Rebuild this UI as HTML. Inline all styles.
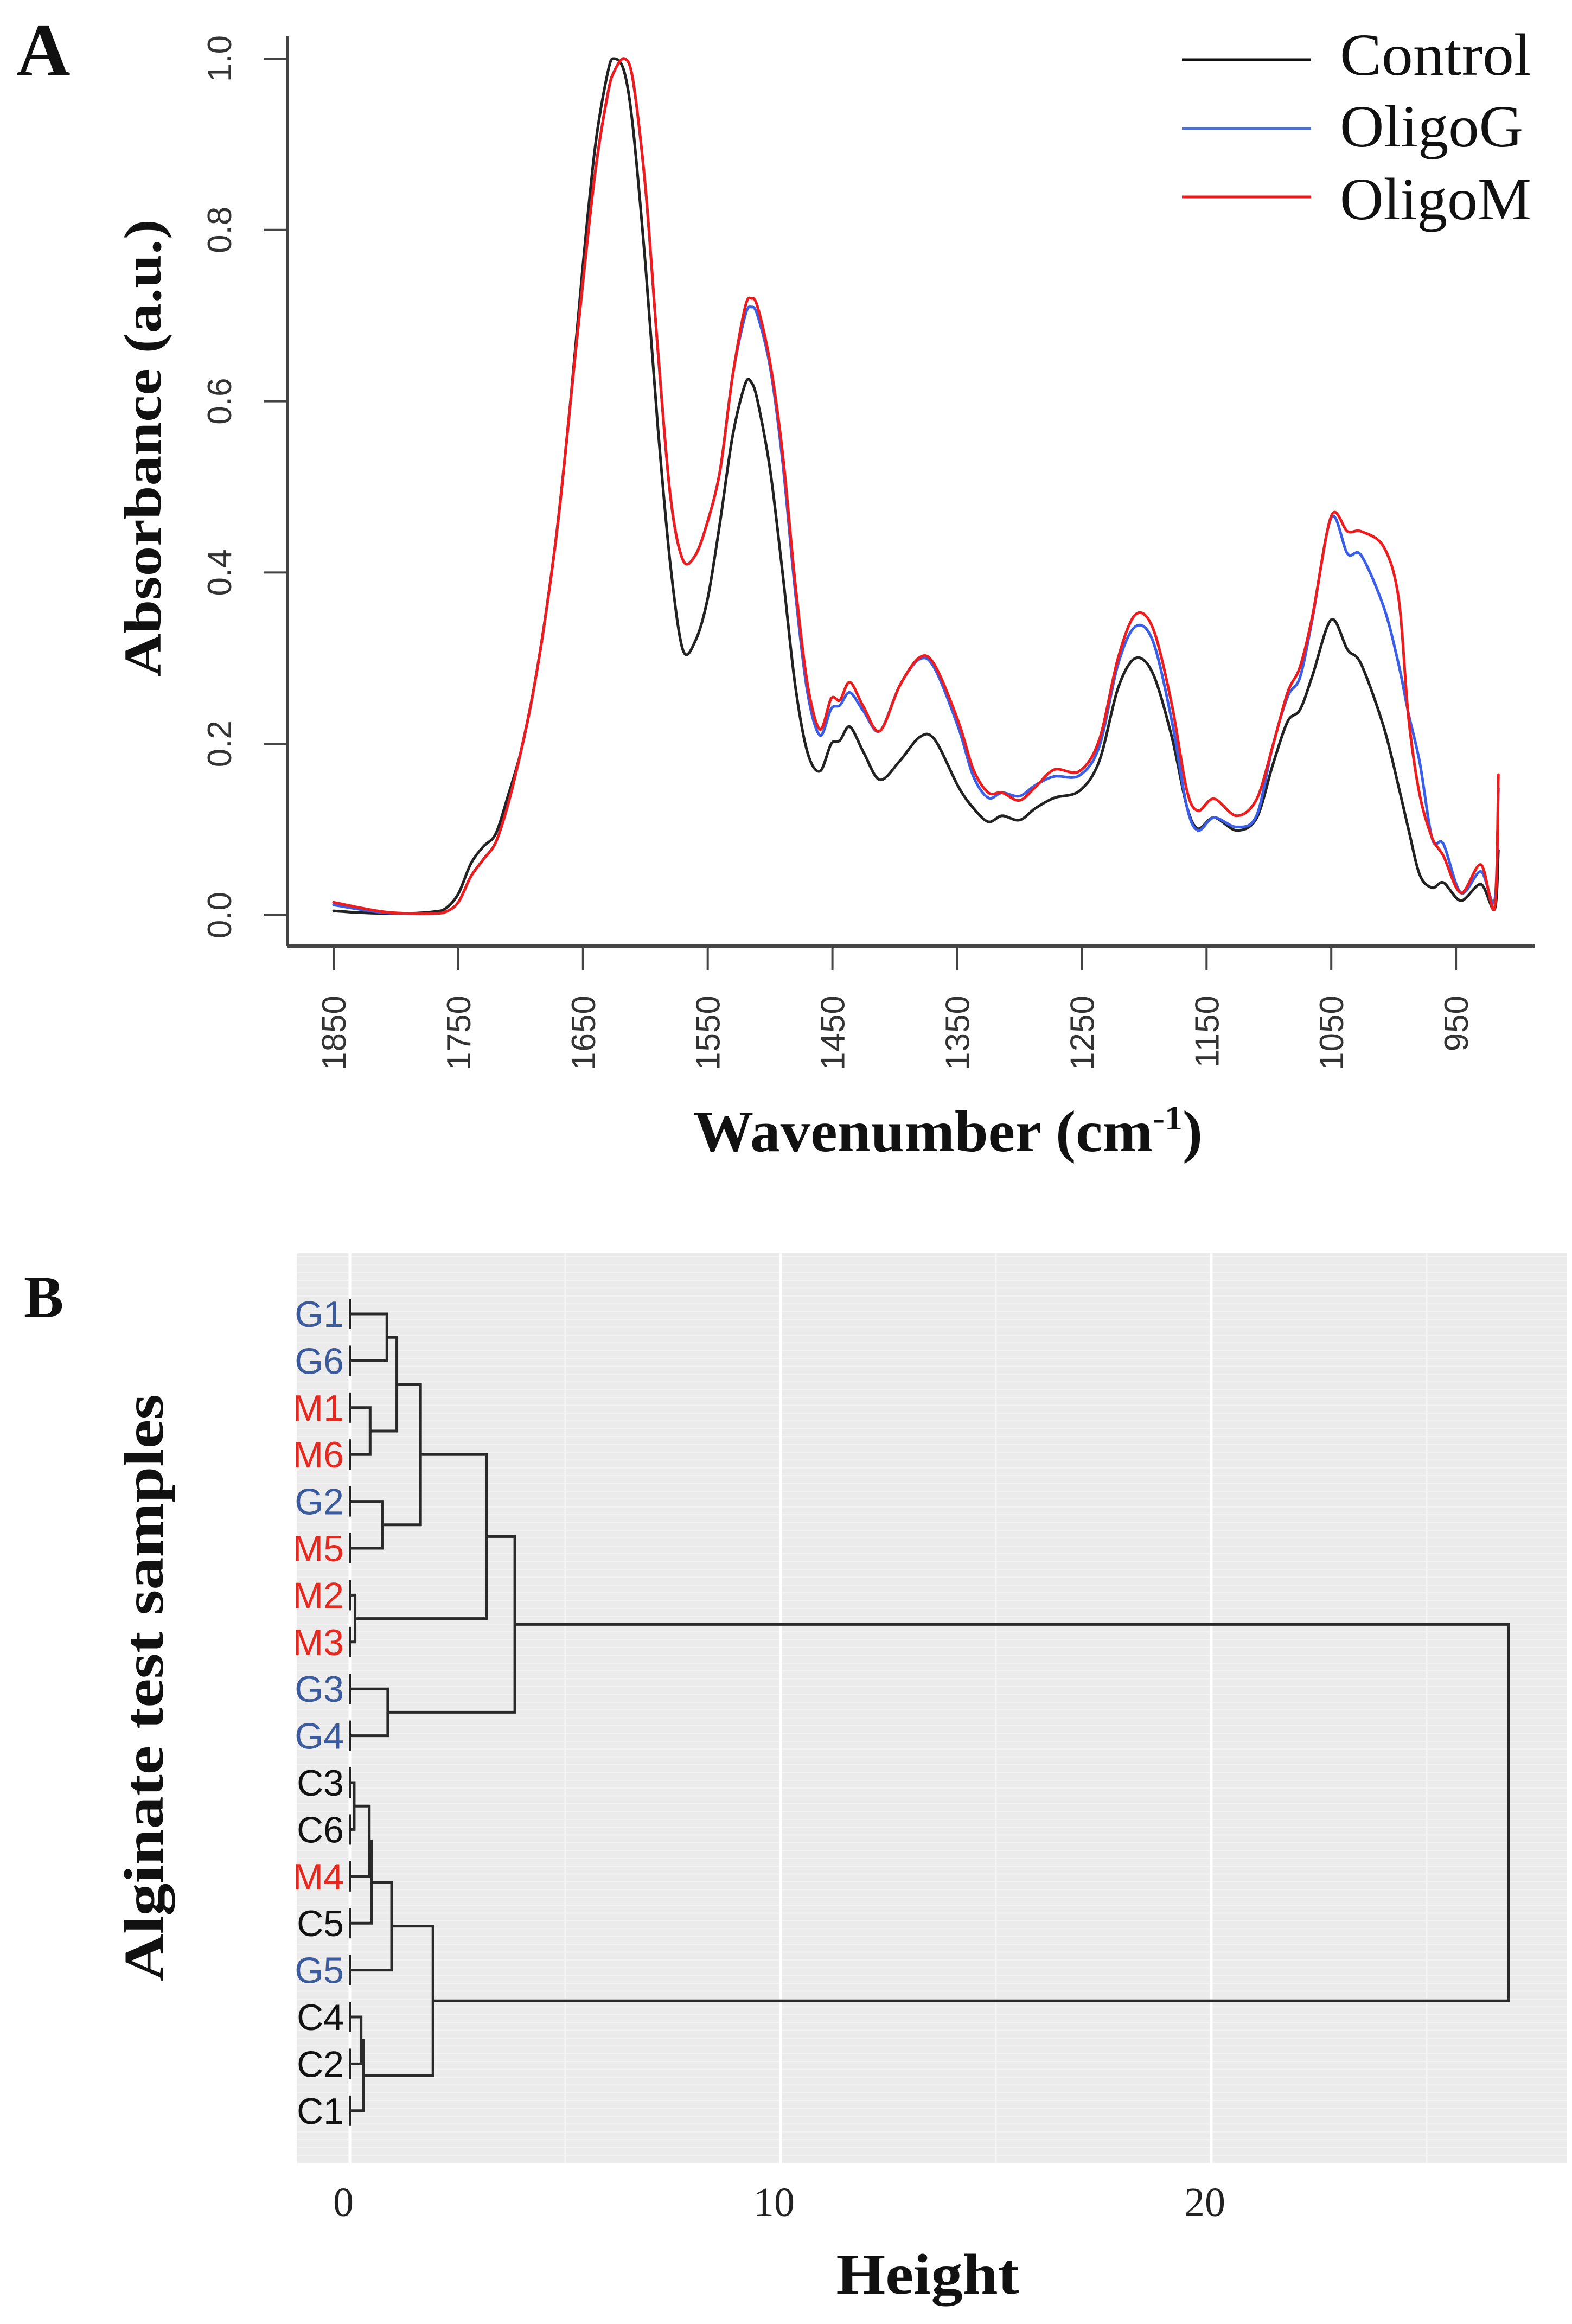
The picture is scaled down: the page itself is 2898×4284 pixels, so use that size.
<!DOCTYPE html>
<html><head><meta charset="utf-8"><style>
html,body{margin:0;padding:0;background:#fff}
svg{display:block}
</style></head><body>
<svg id="fig" xmlns="http://www.w3.org/2000/svg" width="2898" height="4284" viewBox="0 0 2898 4284">
<rect x="0" y="0" width="2898" height="4284" fill="#fff"/>
<!-- Panel A -->
<g id="panelA">
<text x="30" y="139" font-family="Liberation Serif, serif" font-weight="bold" font-size="138" fill="#111">A</text>
<line x1="530" y1="67" x2="530" y2="1744" stroke="#444" stroke-width="5"/>
<line x1="530" y1="1744" x2="2829" y2="1744" stroke="#444" stroke-width="6"/>
<g id="aYTicks"></g>
<g id="aXTicks"></g>
<g id="aLines"></g>
<text transform="translate(296,826) rotate(-90)" text-anchor="middle" font-family="Liberation Serif, serif" font-weight="bold" font-size="98" textLength="844" lengthAdjust="spacingAndGlyphs" fill="#111">Absorbance (a.u.)</text>
<text x="1278" y="2122" font-family="Liberation Serif, serif" font-weight="bold" font-size="108" textLength="939" lengthAdjust="spacingAndGlyphs" fill="#111">Wavenumber (cm<tspan dy="-40" font-size="64">-1</tspan><tspan dy="40">)</tspan></text>
<g>
<g><line x1="2179" y1="110" x2="2417" y2="110" stroke="#111" stroke-width="5"/><text x="2470" y="138" font-family="Liberation Serif, serif" font-size="110" textLength="353" lengthAdjust="spacingAndGlyphs" fill="#111">Control</text></g>
<g><line x1="2179" y1="237" x2="2417" y2="237" stroke="#4a6fd8" stroke-width="5"/><text x="2470" y="270" font-family="Liberation Serif, serif" font-size="110" textLength="338" lengthAdjust="spacingAndGlyphs" fill="#111">OligoG</text></g>
<g><line x1="2179" y1="363" x2="2417" y2="363" stroke="#ee1c1c" stroke-width="5"/><text x="2470" y="404" font-family="Liberation Serif, serif" font-size="110" textLength="353" lengthAdjust="spacingAndGlyphs" fill="#111">OligoM</text></g>
</g>
</g>
<!-- Panel B -->
<g id="panelB">
<defs>
<pattern id="stripes" x="0" y="2310" width="20" height="14.4" patternUnits="userSpaceOnUse">
<rect x="0" y="0" width="20" height="14.4" fill="#ebebeb"/>
<rect x="0" y="6" width="20" height="2" fill="#f3f3f3"/>
</pattern>
</defs>
<text x="44" y="2428" font-family="Liberation Serif, serif" font-weight="bold" font-size="110" fill="#111">B</text>
<rect x="548" y="2310" width="2340" height="1678" fill="url(#stripes)"/>
<g id="bGrid"></g>
<g id="bTree"></g>
<g id="bLeaves"></g>
<g id="bXTicks"></g>
<text x="1710" y="4228" text-anchor="middle" font-family="Liberation Serif, serif" font-weight="bold" font-size="106" textLength="337" lengthAdjust="spacingAndGlyphs" fill="#111">Height</text>
<text transform="translate(300,3111) rotate(-90)" text-anchor="middle" font-family="Liberation Serif, serif" font-weight="bold" font-size="104" textLength="1082" lengthAdjust="spacingAndGlyphs" fill="#111">Alginate  test samples</text>
</g>
</svg>
<script>
// ---------- Panel A data ----------
const wavenumbers = [1850,1830,1810,1790,1770,1760,1750,1740,1730,1720,1710,1700,1690,1680,1670,1660,1650,1640,1630,1625,1617,1610,1600,1590,1580,1570,1560,1550,1540,1530,1520,1515,1510,1500,1490,1480,1470,1460,
1451,1444,1436,1425,1412,1396,1380,1368,1349,1337,1325,1314,1300,1287,1272,1252,1236,1221,1207,1193,1178,1166,1157,1144,1126,1110,1097,1085,1075,1065,1050,1037,1026,1008,996,988,979,969,960,946,930,919,916];
const controlValues = [.005,.003,.002,.002,.004,.008,.025,.06,.08,.095,.14,.19,.26,.35,.46,.6,.76,.9,.985,1.0,.985,.92,.76,.57,.41,.31,.32,.37,.46,.56,.62,.622,.6,.52,.4,.27,.19,.168,
.20,.204,.22,.19,.158,.18,.208,.205,.15,.125,.109,.116,.111,.125,.137,.145,.18,.265,.3,.282,.209,.128,.101,.114,.099,.113,.175,.226,.24,.28,.345,.31,.293,.22,.15,.1,.047,.032,.038,.017,.036,.007,.076];
const oligoGValues = [.012,.007,.003,.002,.002,.004,.015,.045,.065,.085,.13,.19,.26,.35,.46,.6,.74,.87,.96,.985,1.0,.975,.85,.66,.49,.415,.42,.46,.52,.63,.7,.71,.7,.64,.53,.38,.26,.21,
.241,.245,.26,.238,.215,.268,.299,.288,.219,.162,.137,.143,.139,.152,.162,.163,.197,.293,.337,.32,.228,.128,.099,.114,.103,.116,.197,.255,.278,.347,.464,.422,.42,.36,.293,.235,.178,.089,.083,.026,.051,.017,.148];
const oligoMValues = [.015,.009,.004,.002,.002,.004,.015,.045,.065,.085,.13,.19,.26,.35,.46,.6,.74,.87,.96,.985,1.0,.975,.85,.66,.49,.415,.42,.46,.52,.63,.71,.72,.71,.645,.54,.39,.27,.217,
.253,.251,.272,.243,.215,.268,.301,.292,.226,.17,.143,.143,.134,.15,.17,.168,.205,.3,.351,.335,.247,.147,.122,.136,.116,.135,.197,.26,.29,.35,.466,.448,.448,.43,.37,.23,.14,.09,.069,.026,.059,.009,.164];
const xTickLabels = [1850,1750,1650,1550,1450,1350,1250,1150,1050,950];
const yTickLabels = [0.0,0.2,0.4,0.6,0.8,1.0];

// ---------- Panel B data ----------
const leafLabels = ['G1','G6','M1','M6','G2','M5','M2','M3','G3','G4','C3','C6','M4','C5','G5','C4','C2','C1'];
const mergeLeft  = ['G1','M1','n0','G2','n2','M2','n4','G3','n6','C3','n9','n10','n11','C4','n13','n12','n8'];
const mergeRight = ['G6','M6','n1','M5','n3','M3','n5','G4','n7','C6','M4','C5','G5','C2','C1','n14','n15'];
const mergeHeight = [0.86,0.47,1.09,0.75,1.64,0.12,3.17,0.88,3.83,0.1,0.45,0.5,0.97,0.26,0.31,1.93,26.9];
const heightTicks = [0,10,20];
const minorHeightTicks = [5,15,25];

const NS='http://www.w3.org/2000/svg';
function mk(tag, attrs, parent){const e=document.createElementNS(NS,tag);for(const k in attrs)e.setAttribute(k,attrs[k]);parent.appendChild(e);return e;}

// Panel A scales
const ax = wn => 615 + (1850 - wn) * 229.9 / 100;
const ay = v => 1687 - v * 1579;

function smoothPath(pts){
  let d='M'+pts[0][0].toFixed(1)+','+pts[0][1].toFixed(1);
  for(let i=0;i<pts.length-1;i++){
    const p0=pts[Math.max(0,i-1)],p1=pts[i],p2=pts[i+1],p3=pts[Math.min(pts.length-1,i+2)];
    const t=0.16;
    const c1=[p1[0]+(p2[0]-p0[0])*t,p1[1]+(p2[1]-p0[1])*t];
    const c2=[p2[0]-(p3[0]-p1[0])*t,p2[1]-(p3[1]-p1[1])*t];
    d+=` C${c1[0].toFixed(1)},${c1[1].toFixed(1)} ${c2[0].toFixed(1)},${c2[1].toFixed(1)} ${p2[0].toFixed(1)},${p2[1].toFixed(1)}`;
  }
  return d;
}

const yT=document.getElementById('aYTicks');
yTickLabels.forEach(v=>{
  const l=mk('line',{x1:487,y1:ay(v),x2:530,y2:ay(v),stroke:'#444','stroke-width':4},yT);
  
  
  const t=mk('text',{transform:`translate(426,${ay(v)}) rotate(-90)`,'text-anchor':'middle','font-family':'Liberation Sans, sans-serif','font-size':62,fill:'#333'},yT);
  t.textContent=v.toFixed(1);
  
  
});
const xT=document.getElementById('aXTicks');
xTickLabels.forEach(w=>{
  const l=mk('line',{x1:ax(w),y1:1744,x2:ax(w),y2:1788,stroke:'#444','stroke-width':4},xT);
  
  
  const t=mk('text',{transform:`translate(${ax(w)+22},1835) rotate(-90)`,'text-anchor':'end','font-family':'Liberation Sans, sans-serif','font-size':62,fill:'#333'},xT);
  t.textContent=String(w);
  
  
});
const lines=document.getElementById('aLines');
[['control',controlValues,'#222'],['oligog',oligoGValues,'#3a5ee8'],['oligom',oligoMValues,'#ee1c1c']].forEach(([nm,vals,col])=>{
  const pts=wavenumbers.map((w,i)=>[ax(w),ay(vals[i])]);
  const p=mk('path',{d:smoothPath(pts),fill:'none',stroke:col,'stroke-width':5,'stroke-linejoin':'round','stroke-linecap':'round'},lines);
  
  
});

// Panel B scales
const bx = h => 645 + h * 79.4;
const by = i => 2422 + i * 86.4;
const grid=document.getElementById('bGrid');
minorHeightTicks.forEach(h=>{
  const l=mk('line',{x1:bx(h),y1:2310,x2:bx(h),y2:3988,stroke:'#f4f4f4','stroke-width':3},grid);
  
  
});
heightTicks.forEach(h=>{
  const l=mk('line',{x1:bx(h),y1:2310,x2:bx(h),y2:3988,stroke:'#ffffff','stroke-width':5},grid);
  
  
});
const bxT=document.getElementById('bXTicks');
heightTicks.forEach(h=>{
  const t=mk('text',{x:bx(h)-12,y:4085,'text-anchor':'middle','font-family':'Liberation Serif, serif','font-size':76,fill:'#222'},bxT);
  t.textContent=String(h);
  
  
});
const pos={};
leafLabels.forEach((lb,i)=>{pos[lb]={x:0,y:by(i)};});
const tree=document.getElementById('bTree');
const leaves=document.getElementById('bLeaves');
leafLabels.forEach((lb,i)=>{
  const s=mk('line',{x1:bx(0),y1:by(i)-28,x2:bx(0),y2:by(i)+28,stroke:'#222','stroke-width':4},tree);
  
  
  const col = lb[0]==='G' ? '#3c5b9c' : (lb[0]==='M' ? '#e8281e' : '#111');
  const t=mk('text',{x:634,y:by(i)+24,'text-anchor':'end','font-family':'Liberation Sans, sans-serif','font-size':68,fill:col},leaves);
  t.textContent=lb;
  
  
});
mergeHeight.forEach((h,k)=>{
  const a=pos[mergeLeft[k]], b=pos[mergeRight[k]];
  const d=`M${bx(a.x)},${a.y} H${bx(h)} V${b.y} H${bx(b.x)}`;
  const p=mk('path',{d:d,fill:'none',stroke:'#2a2a2a','stroke-width':5},tree);
  
  
  pos['n'+k]={x:h,y:(a.y+b.y)/2};
});
</script>
</body></html>
